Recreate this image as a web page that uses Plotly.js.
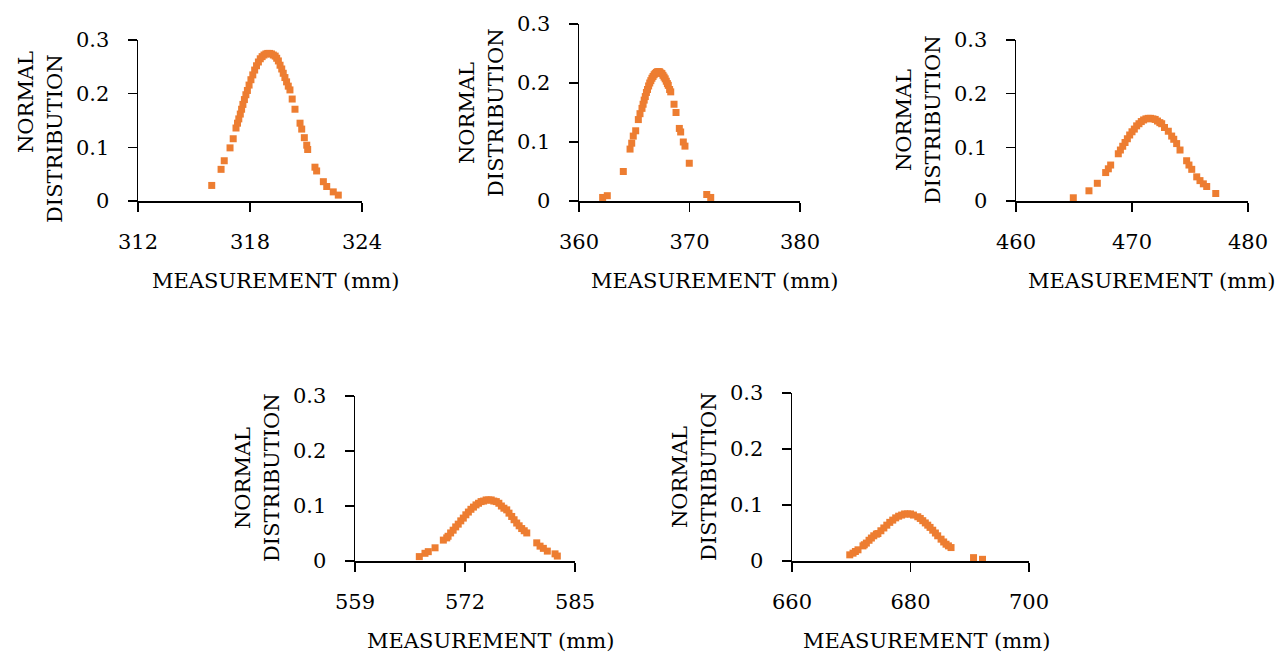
<!DOCTYPE html>
<html>
<head>
<meta charset="utf-8">
<script src="https://cdn.plot.ly/plotly-3.0.1.min.js"></script>
<style>html,body{margin:0;padding:0;background:#fff;}#chart{width:1288px;height:655px;}</style>
</head>
<body>
<div id="chart"></div>
<script>
// ---- Data ----
const x1 = [315.95,316.45,316.62,316.93,317.10,317.25,317.33,317.40,317.48,317.55,317.62,317.70,317.78,317.86,317.95,318.05,318.15,318.25,318.35,318.45,318.55,318.65,318.75,318.85,318.95,319.05,319.15,319.25,319.35,319.43,319.52,319.61,319.70,319.78,319.87,319.96,320.05,320.14,320.26,320.41,320.68,320.77,320.91,321.04,321.09,321.48,321.57,321.93,322.11,322.46,322.73];
const y1 = [0.029,0.059,0.075,0.099,0.116,0.136,0.145,0.153,0.162,0.171,0.180,0.189,0.198,0.206,0.216,0.226,0.235,0.244,0.252,0.259,0.265,0.269,0.272,0.274,0.275,0.275,0.274,0.272,0.270,0.266,0.261,0.253,0.246,0.238,0.230,0.222,0.214,0.207,0.190,0.171,0.145,0.134,0.118,0.104,0.096,0.063,0.056,0.036,0.027,0.017,0.011];

const x2 = [362.14,362.56,364.01,364.62,364.77,364.91,365.13,365.37,365.52,365.70,365.80,365.90,366.00,366.10,366.20,366.30,366.40,366.50,366.60,366.70,366.80,366.90,367.00,367.10,367.20,367.30,367.40,367.50,367.60,367.70,367.80,367.90,368.00,368.08,368.20,368.30,368.60,368.78,369.08,369.20,369.44,369.59,369.98,371.56,371.92];
const y2 = [0.006,0.009,0.050,0.088,0.098,0.110,0.119,0.138,0.148,0.157,0.164,0.171,0.177,0.184,0.189,0.195,0.200,0.204,0.208,0.211,0.214,0.216,0.218,0.219,0.219,0.219,0.217,0.216,0.213,0.210,0.207,0.203,0.199,0.196,0.189,0.185,0.164,0.150,0.123,0.117,0.100,0.093,0.064,0.011,0.006];

const x3 = [464.94,466.29,467.01,467.73,467.96,468.16,468.82,469.00,469.20,469.40,469.60,469.80,470.00,470.20,470.40,470.60,470.80,471.00,471.20,471.40,471.60,471.80,472.00,472.20,472.40,472.56,472.80,473.13,473.42,473.60,473.85,474.14,474.71,474.91,475.15,475.58,475.86,476.15,476.44,477.22];
const y3 = [0.006,0.019,0.033,0.053,0.060,0.067,0.088,0.095,0.102,0.109,0.116,0.123,0.129,0.134,0.140,0.144,0.148,0.151,0.153,0.154,0.154,0.153,0.152,0.149,0.146,0.144,0.137,0.130,0.121,0.115,0.107,0.095,0.075,0.067,0.059,0.045,0.038,0.032,0.027,0.014];

const x4 = [566.60,567.27,567.66,568.46,569.44,569.84,570.00,570.30,570.60,570.90,571.20,571.50,571.80,572.10,572.40,572.70,573.00,573.30,573.60,573.90,574.20,574.50,574.80,575.10,575.40,575.70,576.00,576.30,576.60,576.93,577.20,577.52,577.80,578.11,578.40,578.70,579.00,579.30,580.48,580.87,581.26,581.73,582.64,582.91];
const y4 = [0.008,0.014,0.017,0.024,0.038,0.042,0.045,0.051,0.056,0.062,0.067,0.073,0.078,0.084,0.089,0.094,0.098,0.102,0.105,0.108,0.109,0.111,0.111,0.111,0.109,0.108,0.105,0.100,0.096,0.093,0.087,0.081,0.075,0.069,0.064,0.059,0.055,0.051,0.033,0.027,0.023,0.018,0.013,0.009];

const x5 = [669.75,670.30,670.70,671.14,671.98,672.20,672.55,673.00,673.40,673.80,674.24,674.50,675.00,675.50,676.00,676.50,677.00,677.50,678.00,678.50,679.00,679.50,680.00,680.50,681.23,681.65,682.07,682.50,682.91,683.30,683.75,684.20,684.59,685.16,685.60,686.00,686.40,686.84,690.64,692.15];
const y5 = [0.011,0.014,0.017,0.020,0.027,0.029,0.032,0.037,0.041,0.045,0.048,0.049,0.054,0.059,0.064,0.069,0.073,0.077,0.080,0.082,0.084,0.084,0.084,0.082,0.079,0.076,0.072,0.068,0.064,0.060,0.055,0.050,0.045,0.039,0.034,0.030,0.027,0.024,0.006,0.003];

const xRanges = [[312,324],[360,380],[460,480],[559,585],[660,700]];
const xDticks = [6,10,10,13,20];
const yRange = [0,0.3];
const yDtick = 0.1;
const xTitle = "MEASUREMENT (mm)";
const yTitleLines = ["NORMAL","DISTRIBUTION"];

// ---- Layout geometry (pixels in a 1288x655 page) ----
const W = 1288, H = 655;
const boxes = [
  {l:138, r:362, t:40,  b:201, xt:275,   yc:[102,139]},
  {l:579, r:800, t:24,  b:201, xt:714,   yc:[113,113]},
  {l:1016,r:1248,t:40,  b:201, xt:1151,  yc:[120,120]},
  {l:355, r:575, t:396, b:561, xt:490,   yc:[478,478]},
  {l:792, r:1029,t:393, b:561, xt:926.5, yc:[477,477]}
];
const FONT = "DejaVu Serif, Liberation Serif, serif";
const FS = 21;
const COLOR = "#ED7D31";

const xs = [x1,x2,x3,x4,x5];
const ys = [y1,y2,y3,y4,y5];
const data = [];
const layout = {
  width: W, height: H,
  margin: {l:0,r:0,t:0,b:0},
  paper_bgcolor: "#fff", plot_bgcolor: "rgba(0,0,0,0)",
  showlegend: false,
  font: {family: FONT, size: FS, color: "#000"},
  annotations: []
};

boxes.forEach((bx, i) => {
  const n = i + 1;
  const xa = n === 1 ? "x" : "x" + n;
  const ya = n === 1 ? "y" : "y" + n;
  data.push({
    type: "scatter", mode: "markers",
    x: xs[i], y: ys[i], xaxis: xa, yaxis: ya,
    marker: {symbol: "square", size: 7, color: COLOR},
    hoverinfo: "x+y"
  });
  const xKey = n === 1 ? "xaxis" : "xaxis" + n;
  const yKey = n === 1 ? "yaxis" : "yaxis" + n;
  layout[xKey] = {
    domain: [bx.l / W, bx.r / W],
    anchor: ya,
    range: xRanges[i], tick0: xRanges[i][0], dtick: xDticks[i],
    showgrid: false, zeroline: false,
    showline: true, linecolor: "#000", linewidth: 1.5,
    ticks: "outside", ticklen: 9, tickwidth: 1.5, tickcolor: "#000",
    ticklabelstandoff: 12,
    tickfont: {family: FONT, size: FS, color: "#000"},
    fixedrange: true
  };
  layout[yKey] = {
    domain: [1 - bx.b / H, 1 - bx.t / H],
    anchor: xa,
    range: yRange, tick0: 0, dtick: yDtick,
    showgrid: false, zeroline: false,
    showline: true, linecolor: "#000", linewidth: 1.5,
    ticks: "outside", ticklen: 9, tickwidth: 1.5, tickcolor: "#000",
    ticklabelstandoff: 14,
    tickfont: {family: FONT, size: FS, color: "#000"},
    fixedrange: true
  };
  layout.annotations.push({
    xref: "paper", yref: "paper",
    x: bx.xt / W, y: 1 - (bx.b + 80) / H,
    xanchor: "center", yanchor: "middle",
    text: xTitle, showarrow: false,
    font: {family: FONT, size: FS, color: "#000"}
  });
  yTitleLines.forEach((t, k) => {
    layout.annotations.push({
      xref: "paper", yref: "paper",
      x: (bx.l - (k === 0 ? 112 : 83)) / W, y: 1 - bx.yc[k] / H,
      xanchor: "center", yanchor: "middle",
      textangle: -90,
      text: t, showarrow: false,
      font: {family: FONT, size: FS, color: "#000"}
    });
  });
});

Plotly.newPlot("chart", data, layout, {displayModeBar: false, staticPlot: true});
</script>
</body>
</html>
